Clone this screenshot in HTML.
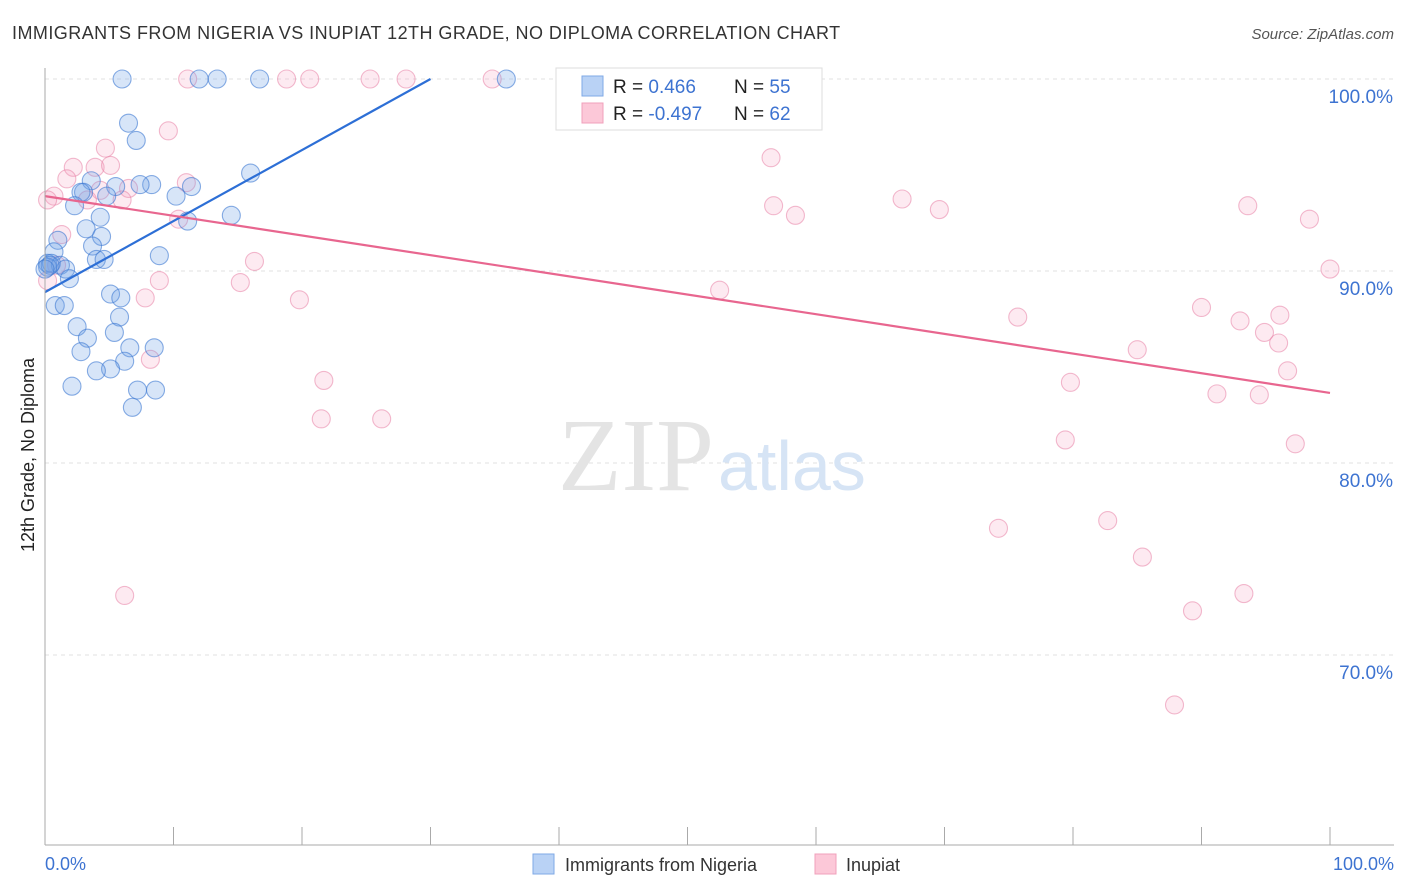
<!DOCTYPE html>
<html><head><meta charset="utf-8"><style>
body{margin:0;background:#fff;font-family:"Liberation Sans",sans-serif;}
svg{display:block}
</style></head><body>
<svg id="chart" width="1406" height="892" font-family="Liberation Sans, sans-serif">
<text x="12" y="39" font-size="18" fill="#333" letter-spacing="0.45">IMMIGRANTS FROM NIGERIA VS INUPIAT 12TH GRADE, NO DIPLOMA CORRELATION CHART</text>
<text x="1394" y="39" font-size="15" fill="#555" font-style="italic" text-anchor="end">Source: ZipAtlas.com</text>
<g id="grid"></g>
<text x="714" y="490" font-size="104" font-family="Liberation Serif, serif" fill="#e4e4e4" text-anchor="end">ZIP</text>
<text x="718" y="490" font-size="70" fill="#d6e4f5">atlas</text>
<g id="pts"></g>
<g id="lines"></g>
<line x1="45" y1="68" x2="45" y2="845" stroke="#aaa"/>
<line x1="45" y1="845" x2="1394" y2="845" stroke="#aaa"/>
<g id="xt"></g>
<text x="45" y="870" font-size="18" fill="#3d73d1">0.0%</text>
<text x="1394" y="870" font-size="18" fill="#3d73d1" text-anchor="end">100.0%</text>
<text transform="translate(34,455) rotate(-90)" font-size="18" fill="#222" text-anchor="middle">12th Grade, No Diploma</text>
<g>
<rect x="556" y="68" width="266" height="62" fill="#fff" stroke="#ddd"/>
<rect x="582" y="76" width="21" height="20" fill="#b9d2f5" stroke="#7fa9e6"/>
<rect x="582" y="103" width="21" height="20" fill="#fcc8d8" stroke="#f0a0bb"/>
<text x="613" y="93" font-size="19" fill="#222">R = <tspan fill="#3d73d1"> 0.466</tspan><tspan x="734">N = </tspan><tspan fill="#3d73d1">55</tspan></text>
<text x="613" y="120" font-size="19" fill="#222">R = <tspan fill="#3d73d1">-0.497</tspan><tspan x="734">N = </tspan><tspan fill="#3d73d1">62</tspan></text>
</g>
<g><rect x="533" y="854" width="21" height="20" fill="#b9d2f5" stroke="#7fa9e6"/><text x="565" y="871" font-size="18" fill="#333">Immigrants from Nigeria</text></g>
<g><rect x="815" y="854" width="21" height="20" fill="#fcc8d8" stroke="#f0a0bb"/><text x="846" y="871" font-size="18" fill="#333">Inupiat</text></g>
</svg>
<script>
const yTicks=[100,90,80,70];
const xTickVals=[0,10,20,30,40,50,60,70,80,90,100];
const blueX=[6.0,12.0,13.4,16.7,35.9,6.5,7.1,16.0,8.3,7.4,5.5,11.4,3.6,3.0,2.8,4.8,10.2,2.3,14.5,4.3,11.1,3.2,4.4,1.0,3.7,0.7,8.9,4.0,4.6,0.2,0.5,1.2,0.2,1.6,1.9,0.8,1.5,5.1,5.9,5.8,2.5,5.4,3.3,2.8,6.6,8.5,6.2,5.1,4.0,7.2,8.6,2.1,6.8,0.4,0];
const blueY=[100,100,100,100,100,97.7,96.8,95.1,94.5,94.5,94.4,94.4,94.7,94.1,94.1,93.9,93.9,93.4,92.9,92.8,92.6,92.2,91.8,91.6,91.3,91.0,90.8,90.6,90.6,90.4,90.4,90.3,90.2,90.1,89.6,88.2,88.2,88.8,88.6,87.6,87.1,86.8,86.5,85.8,86.0,86.0,85.3,84.9,84.8,83.8,83.8,84.0,82.9,90.3,90.1];
const pinkX=[11.1,18.8,20.6,25.3,28.1,34.8,47.2,9.6,4.7,2.2,3.9,5.1,1.7,11.0,4.3,6.5,0.7,3.3,6.0,10.4,1.3,16.3,15.2,8.9,7.8,19.8,8.2,21.7,21.5,26.2,6.2,56.5,66.7,56.7,58.4,69.6,93.6,98.4,100,52.5,75.7,90.0,93.0,96.1,94.9,96.0,85.0,79.8,96.7,91.2,94.5,79.4,97.3,74.2,82.7,85.4,89.3,93.3,87.9,0.2,0.9,0.2];
const pinkY=[100,100,100,100,100,100,100,97.3,96.4,95.4,95.4,95.5,94.8,94.6,94.2,94.3,93.9,93.7,93.7,92.7,91.9,90.5,89.4,89.5,88.6,88.5,85.4,84.3,82.3,82.3,73.1,95.9,93.75,93.4,92.9,93.2,93.4,92.7,90.1,89.0,87.6,88.1,87.4,87.7,86.8,86.25,85.9,84.2,84.8,83.6,83.55,81.2,81.0,76.6,77.0,75.1,72.3,73.2,67.4,89.5,90.3,93.7];
const blueLine=[[0,88.9],[30.0,100]];
const pinkLine=[[0,93.9],[100,83.65]];
const NS="http://www.w3.org/2000/svg";
const sx=v=>45+v*12.85, sy=v=>79+(100-v)*19.2;
function mk(t,a,p){const e=document.createElementNS(NS,t);for(const k in a)e.setAttribute(k,a[k]);document.getElementById(p).appendChild(e);return e;}
yTicks.forEach(v=>{
 const l=mk('line',{x1:45,x2:1394,y1:sy(v),y2:sy(v),stroke:'#e2e2e2','stroke-dasharray':'4,4'},'grid');
 
 
 const t=mk('text',{x:1393,y:sy(v)+24,'font-size':19,fill:'#3d73d1','text-anchor':'end'},'grid');
 t.textContent=v.toFixed(1)+'%';
 
 
});
xTickVals.forEach(v=>{
 const l=mk('line',{x1:sx(v),x2:sx(v),y1:827,y2:845,stroke:'#aaa'},'xt');
 
 
});
function pts(X,Y,fill,stroke,name){X.forEach((x,i)=>{
 const c=mk('circle',{cx:sx(x),cy:sy(Y[i]),r:9,fill:fill,stroke:stroke,'stroke-width':1.1},'pts');
 
 
});}
pts(pinkX,pinkY,'rgba(245,160,190,0.22)','rgba(232,130,165,0.55)','point-inupiat');
pts(blueX,blueY,'rgba(110,160,230,0.28)','rgba(60,120,210,0.6)','point-nigeria');
function ln(L,c,name){const l=mk('line',{x1:sx(L[0][0]),y1:sy(L[0][1]),x2:sx(L[1][0]),y2:sy(L[1][1]),stroke:c,'stroke-width':2.2},'lines');
 
 }
ln(blueLine,'#2d6fd6','trend-nigeria');
ln(pinkLine,'#e8668f','trend-inupiat');
</script>
</body></html>
